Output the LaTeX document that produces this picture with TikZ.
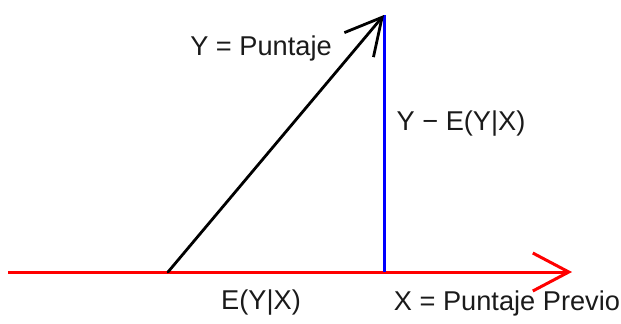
\documentclass[tikz,border=0pt]{standalone}
\usepackage{fontspec}
\setsansfont{Liberation Sans}
\usepackage{xcolor}
\definecolor{axisred}{HTML}{FF0000}
\definecolor{residblue}{HTML}{0000FF}
\definecolor{textmain}{HTML}{1A1A1A}
\usetikzlibrary{arrows.meta, positioning}

\begin{document}
\begin{tikzpicture}[
        x=0.5pt, y=-0.5pt,
        font=\sffamily,
        tip/.style={-{Straight Barb[length=18pt, width=19pt]}},
        label/.style={
            text=textmain,
            inner sep=0pt,
            font=\sffamily\fontsize{13.6}{16}\selectfont
        }
    ]
    \useasboundingbox (0,0) rectangle (621,323);

    % Key points
    \coordinate (origin) at (8,272);
    \coordinate (base) at (168,272);
    \coordinate (foot) at (384,272);
    \coordinate (top) at (384,15);
    \coordinate (xend) at (572,272);

    % Horizontal axis
    \draw[tip, axisred, line width=1.5pt] (origin) -- (xend);

    % Residual
    \draw[residblue, line width=1.5pt] (foot) -- (top);

    % Observed score
    \draw[tip, black, line width=1.4pt, line cap=round] (base) -- (top);

    % Labels
    \node[label] (ylab) at (261,48) {Y = Puntaje};
    \node[label] (reslab) at (461,124) {Y − E(Y|X)};
    \node[label] (eylab) at (261,303) {E(Y|X)};
    \node[label] (xlab) at (507,303) {X = Puntaje Previo};

\end{tikzpicture}
\end{document}
